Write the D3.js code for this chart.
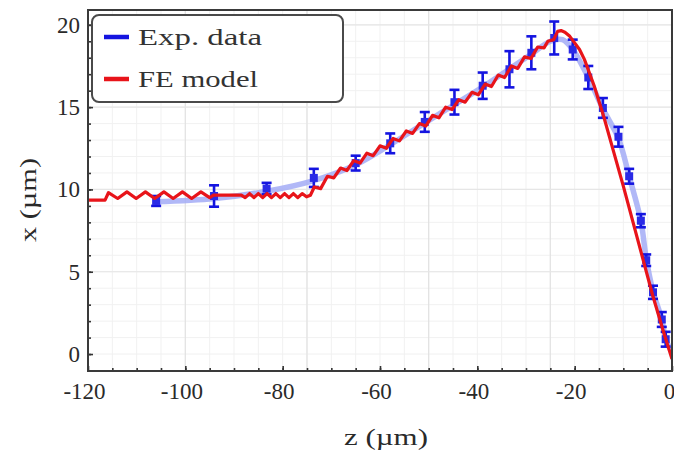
<!DOCTYPE html>
<html>
<head>
<meta charset="utf-8">
<script src="https://cdn.jsdelivr.net/npm/d3@7"></script>
<style>
  body { margin: 0; background: #fff; }
  svg { display: block; }
  svg text { font-family: "Liberation Serif", "DejaVu Serif", serif; }
</style>
</head>
<body>
<svg id="chart" width="674" height="451"></svg>
<script>
// Experimental points: z, x and error (µm)
const expZ   = [-106.0, -94.1, -83.3, -73.6, -65.0, -57.9, -50.8, -44.7, -38.9, -33.4, -28.9, -24.2, -20.4, -17.2, -14.2, -11.0, -8.8, -6.4, -5.3, -3.9, -2.1, -1.3];
const expX   = [9.3, 9.6, 10.05, 10.7, 11.6, 12.8, 14.1, 15.3, 16.3, 17.3, 18.3, 19.2, 18.5, 16.8, 14.95, 13.2, 10.8, 8.1, 5.7, 3.75, 2.1, 0.9];
const expErr = [0.3, 0.65, 0.35, 0.55, 0.45, 0.6, 0.6, 0.75, 0.8, 1.1, 1.0, 1.0, 0.6, 0.7, 0.6, 0.6, 0.45, 0.4, 0.35, 0.4, 0.45, 0.45];

// light blue smooth curve through the experimental data
const fitZ = [-106.0, -94.0, -83.0, -74.0, -65.0, -58.0, -51.0, -45.0, -39.0, -33.5, -29.0, -25.0, -22.5, -20.4, -17.2, -14.2, -11.0, -8.8, -6.4, -5.3, -3.9, -2.1, -1.3, 0];
const fitX = [9.25, 9.45, 9.9, 10.5, 11.5, 12.7, 14.0, 15.1, 16.2, 17.3, 18.2, 19.0, 19.1, 18.5, 16.8, 14.9, 13.1, 10.8, 8.1, 5.8, 3.8, 2.1, 0.9, 0.1];

// FE model (red zigzag)
const feZ = [-120, -116.5, -115.8, -113.9, -112.0, -110.1, -108.2, -106.3, -104.4, -102.5, -100.6, -98.7, -96.8, -95.0, -94.2,
  -88.5, -87.7, -86.8, -85.9, -85.0, -84.1, -83.2, -82.3, -81.4, -80.5, -79.6, -78.7, -77.8, -76.9, -76.0, -75.1, -74.3,
  -73.5, -72.2, -70.8, -69.5, -68.1, -66.8, -65.4, -64.1, -62.7, -61.4, -60.0, -58.7, -57.3, -56.0, -54.6, -53.3, -51.9, -50.6,
  -49.2, -47.9, -46.5, -45.2, -43.8, -42.5, -41.1, -39.8, -38.4, -37.1, -35.7, -34.4, -33.0, -31.7, -30.3, -29.0, -27.6, -26.3,
  -25.5, -24.3, -23.5, -22.8, -22.0, -21.0, -20.0, -19.0, -18.0, -16.0, -14.0, -12.0, -10.0, -8.0, -6.0, -4.0, -2.0, 0];
const feX = [9.35, 9.35, 9.8, 9.45, 9.85, 9.45, 9.85, 9.45, 9.85, 9.45, 9.85, 9.45, 9.85, 9.5, 9.65,
  9.65, 9.5, 9.75, 9.5, 9.75, 9.5, 9.75, 9.5, 9.75, 9.5, 9.75, 9.5, 9.75, 9.5, 9.75, 9.55, 9.65,
  10.15, 10.05, 10.8, 10.7, 11.3, 11.15, 11.75, 11.6, 12.2, 12.05, 12.65, 12.5, 13.1, 12.95, 13.55, 13.4, 14.0, 13.85,
  14.5, 14.35, 15.0, 14.85, 15.45, 15.3, 15.9, 15.75, 16.4, 16.25, 16.95, 16.8, 17.5, 17.35, 18.05, 17.95, 18.65, 18.6,
  19.0, 19.1, 19.6, 19.65, 19.55, 19.3, 18.9, 18.5, 17.9, 16.3, 14.4, 12.3, 10.2, 8.0, 5.8, 3.6, 1.6, -0.3];

const xTickValues = [-120, -100, -80, -60, -40, -20, 0];
const yTickValues = [0, 5, 10, 15, 20];
const legendLabels = ["Exp. data", "FE model"];
const colors = ["#1414e0", "#e8141a"];

const svg = d3.select("#chart");
const mLeft = 88, mRight = 672, mTop = 10, mBottom = 371;

const x = d3.scaleLinear().domain([-120, 0]).range([mLeft, mRight]);
const y = d3.scaleLinear().domain([-1.03, 20.9]).range([mBottom, mTop]);

const font = "Liberation Serif, DejaVu Serif, serif";

// grid: minor then major
const grid = svg.append("g");
grid.selectAll(".vminor").data(d3.range(-115, 0, 5)).join("line")
  .attr("x1", d => x(d)).attr("x2", d => x(d)).attr("y1", mTop).attr("y2", mBottom)
  .attr("stroke", "#f1f1f1").attr("stroke-width", 1);
grid.selectAll(".hminor").data(d3.range(0, 21, 1)).join("line")
  .attr("x1", mLeft).attr("x2", mRight).attr("y1", d => y(d)).attr("y2", d => y(d))
  .attr("stroke", "#f1f1f1").attr("stroke-width", 1);
grid.selectAll(".vmajor").data([-100, -75, -50, -25]).join("line")
  .attr("x1", d => x(d)).attr("x2", d => x(d)).attr("y1", mTop).attr("y2", mBottom)
  .attr("stroke", "#e2e2e2").attr("stroke-width", 1.2);
grid.selectAll(".hmajor").data([5, 10, 15, 20]).join("line")
  .attr("x1", mLeft).attr("x2", mRight).attr("y1", d => y(d)).attr("y2", d => y(d))
  .attr("stroke", "#e6e6e6").attr("stroke-width", 1.2);

svg.append("clipPath").attr("id", "plotclip")
  .append("rect").attr("x", mLeft).attr("y", mTop).attr("width", mRight - mLeft).attr("height", mBottom - mTop);
const plot = svg.append("g").attr("clip-path", "url(#plotclip)");

// fit band
const fitData = fitZ.map((z, i) => [z, fitX[i]]);
plot.append("path")
  .datum(fitData)
  .attr("fill", "none")
  .attr("stroke", "#a3abf6")
  .attr("stroke-opacity", 0.85)
  .attr("stroke-width", 5.5)
  .attr("stroke-linecap", "round")
  .attr("d", d3.line().x(d => x(d[0])).y(d => y(d[1])).curve(d3.curveCatmullRom));

// error bars + markers
const expData = expZ.map((z, i) => ({ z, v: expX[i], e: expErr[i] }));
const eb = plot.append("g").attr("stroke", colors[0]).attr("stroke-width", 2.6);
eb.selectAll(".bar").data(expData).join("line")
  .attr("x1", d => x(d.z)).attr("x2", d => x(d.z))
  .attr("y1", d => y(d.v - d.e)).attr("y2", d => y(d.v + d.e));
eb.selectAll(".capT").data(expData).join("line")
  .attr("x1", d => x(d.z) - 5).attr("x2", d => x(d.z) + 5)
  .attr("y1", d => y(d.v + d.e)).attr("y2", d => y(d.v + d.e));
eb.selectAll(".capB").data(expData).join("line")
  .attr("x1", d => x(d.z) - 5).attr("x2", d => x(d.z) + 5)
  .attr("y1", d => y(d.v - d.e)).attr("y2", d => y(d.v - d.e));
plot.append("g").selectAll("rect").data(expData).join("rect")
  .attr("x", d => x(d.z) - 4).attr("y", d => y(d.v) - 4)
  .attr("width", 8).attr("height", 8)
  .attr("fill", "#2a2ae6");

// FE model line
const feData = feZ.map((z, i) => [z, feX[i]]);
plot.append("path")
  .datum(feData)
  .attr("fill", "none")
  .attr("stroke", colors[1])
  .attr("stroke-width", 3.2)
  .attr("stroke-linejoin", "round")
  .attr("d", d3.line().x(d => x(d[0])).y(d => y(d[1])));

// axes: ticks drawn inward
const xMinor = d3.axisBottom(x).tickValues(d3.range(-115, 0, 5)).tickSize(-3).tickFormat("");
const xMajor = d3.axisBottom(x).tickValues(xTickValues).tickSize(-5).tickPadding(12)
  .tickFormat(d => d3.format("d")(d).replace("−", "-"));
const yMinor = d3.axisLeft(y).tickValues(d3.range(0, 21, 1)).tickSize(-3).tickFormat("");
const yMajor = d3.axisLeft(y).tickValues(yTickValues).tickSize(-5).tickPadding(8);

function styleAxis(g) {
  g.attr("font-family", null).attr("font-size", null);
  g.select(".domain").remove();
  g.selectAll(".tick line").attr("stroke", "#333").attr("stroke-width", 1.6);
  g.selectAll("text").style("font-family", font).style("font-size", "23px").attr("fill", "#2a2a2a");
}
svg.append("g").attr("transform", `translate(0,${mBottom})`).call(xMinor).call(styleAxis);
svg.append("g").attr("transform", `translate(0,${mBottom})`).call(xMajor).call(styleAxis)
  .selectAll("text").attr("dx", d => d < 0 ? -4 : -3);
svg.append("g").attr("transform", `translate(${mLeft},0)`).call(yMinor).call(styleAxis);
svg.append("g").attr("transform", `translate(${mLeft},0)`).call(yMajor).call(styleAxis);

// frame
svg.append("rect")
  .attr("x", mLeft).attr("y", mTop).attr("width", mRight - mLeft).attr("height", mBottom - mTop)
  .attr("fill", "none").attr("stroke", "#3a3a3a").attr("stroke-width", 2);

// axis titles
svg.append("text")
  .attr("x", 344).attr("y", 445)
  .style("font-family", font).style("font-size", "24px").attr("fill", "#2a2a2a")
  .attr("textLength", 84).attr("lengthAdjust", "spacingAndGlyphs")
  .text("z (µm)");
svg.append("text")
  .attr("transform", `translate(36,242) rotate(-90)`)
  .style("font-family", font).style("font-size", "24px").attr("fill", "#2a2a2a")
  .attr("textLength", 84).attr("lengthAdjust", "spacingAndGlyphs")
  .text("x (µm)");

// legend
const legend = svg.append("g");
legend.append("rect")
  .attr("x", 92).attr("y", 15).attr("width", 251).attr("height", 87)
  .attr("rx", 7)
  .attr("fill", "#fff").attr("stroke", "#4a4a4a").attr("stroke-width", 2);
const legendWidths = [124, 120];
legendLabels.forEach((lab, i) => {
  const ly = 37 + i * 42;
  legend.append("line")
    .attr("x1", 104).attr("x2", 129).attr("y1", ly).attr("y2", ly)
    .attr("stroke", colors[i]).attr("stroke-width", 4.5);
  legend.append("text")
    .attr("x", 138).attr("y", ly + 8)
    .style("font-family", font).style("font-size", "24px").attr("fill", "#333")
    .attr("textLength", legendWidths[i]).attr("lengthAdjust", "spacingAndGlyphs")
    .text(lab);
});
</script>
</body>
</html>
